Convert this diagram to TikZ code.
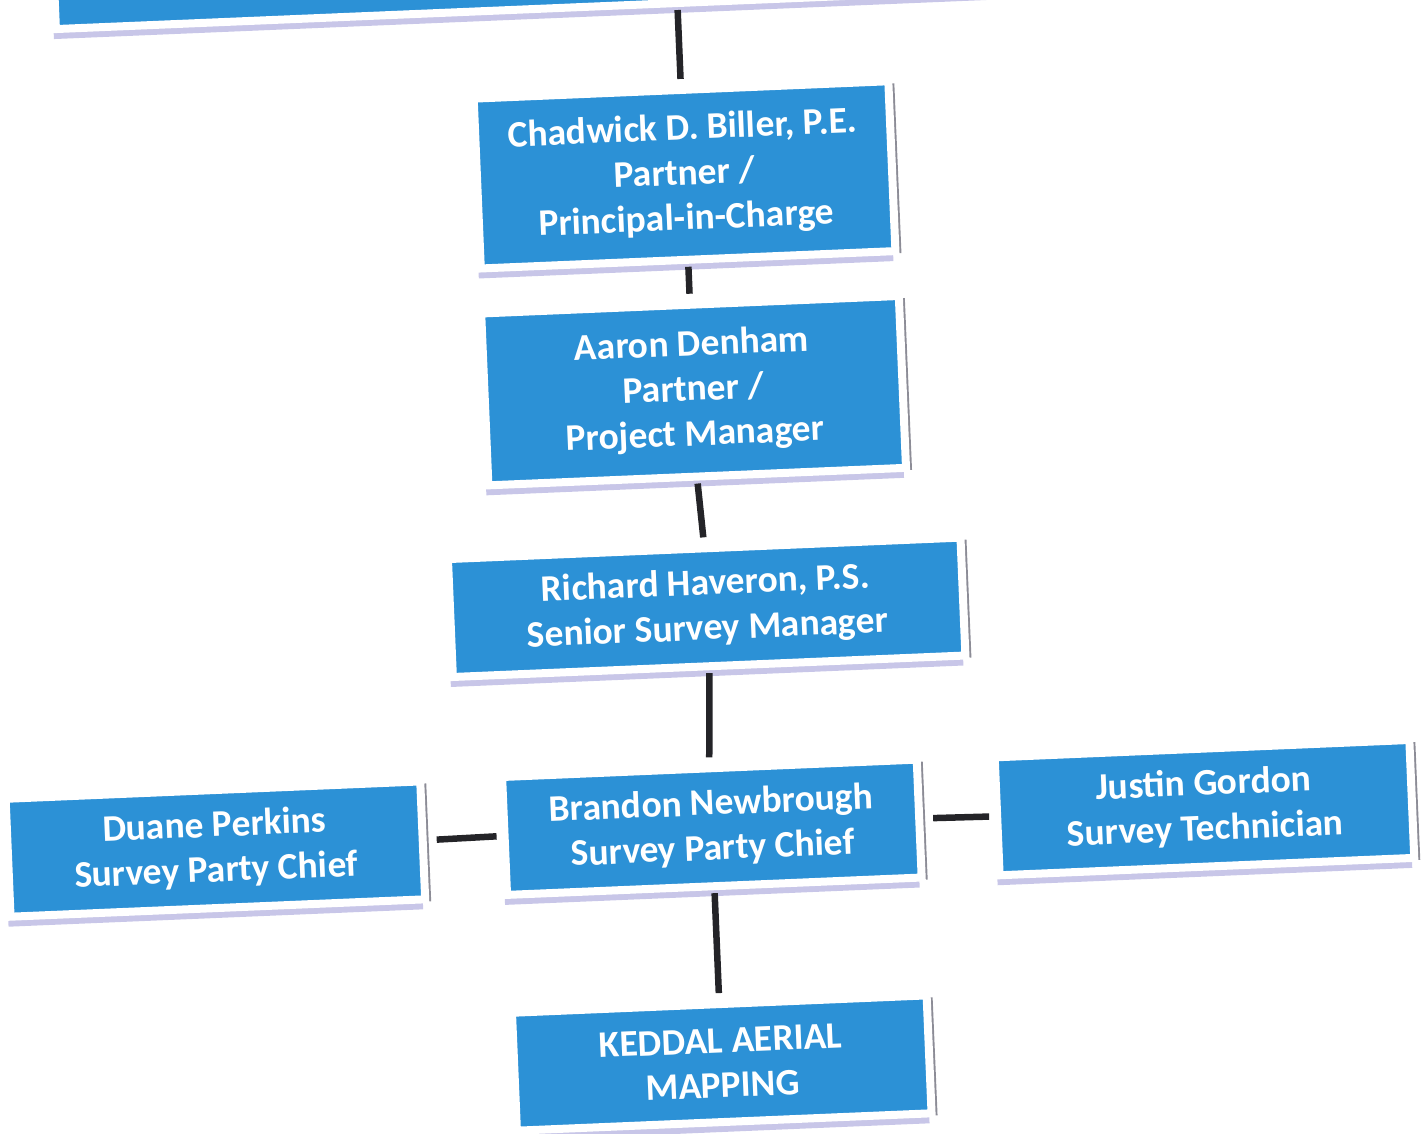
\documentclass[tikz,border=0pt]{standalone}
\usepackage{fontspec}
\setmainfont{Carlito}
\usetikzlibrary{shadows}

\definecolor{boxblue}{RGB}{44,145,214}
\definecolor{shadowlav}{RGB}{200,198,232}
\definecolor{edgegray}{RGB}{140,140,150}
\definecolor{linkgray}{RGB}{36,36,40}

\tikzset{
    orgbox/.style={rectangle, fill=boxblue, draw=white, line width=8pt, text=white,
        inner sep=0pt, align=center, minimum width=415pt, minimum height=118pt,
        font=\fontsize{37.5}{45}\selectfont\bfseries, transform shape,
        general shadow={fill=edgegray, shadow xshift=6pt, shadow yshift=-2pt},
        general shadow={fill=shadowlav, shadow xshift=-2pt, shadow yshift=-10pt}},
    vlink/.style={draw=linkgray, line width=6.5pt, shorten <=3pt, shorten >=7pt},
    hlink/.style={draw=linkgray, line width=6.5pt, shorten <=10pt, shorten >=4pt}
}

\begin{document}
\begin{tikzpicture}[x=1pt,y=-1pt]
    \useasboundingbox (0,0) rectangle (1427,1134);
    % the scanned sheet is slightly tilted
    \begin{scope}[rotate around={2.4:(713,567)}]
    \node[orgbox, minimum width=1244pt, minimum height=208pt] (top) at (701,-102) {};
    \node[orgbox, minimum height=170pt] (biller) at (701,174) {Chadwick D. Biller, P.E.\\Partner /\\Principal-in-Charge};
    \node[orgbox, minimum width=418pt, minimum height=172pt] (denham) at (701,390) {Aaron Denham\\Partner /\\Project Manager};
    \node[orgbox, minimum width=513pt] (haveron) at (705,607) {Richard Haveron, P.S.\\Senior Survey Manager};
    \node[orgbox] (newbrough) at (701,827) {Brandon Newbrough\\Survey Party Chief};
    \node[orgbox] (perkins) at (204,828) {Duane Perkins\\Survey Party Chief};
    \node[orgbox] (gordon) at (1194,828) {Justin Gordon\\Survey Technician};
    \node[orgbox] (keddal) at (701,1063) {KEDDAL AERIAL\\MAPPING};

    % reporting lines
    \draw[vlink] (top.south) -- (biller.north);
    \draw[vlink] (biller.south) -- (denham.north);
    \draw[vlink] (denham.south) -- (haveron.north);
    \draw[vlink] (haveron.south) -- (newbrough.north);
    \draw[vlink] (newbrough.south) -- (keddal.north);
    \draw[hlink] (perkins.east) -- (newbrough.west);
    \draw[hlink] (newbrough.east) -- (gordon.west);
    \end{scope}
\end{tikzpicture}
\end{document}
